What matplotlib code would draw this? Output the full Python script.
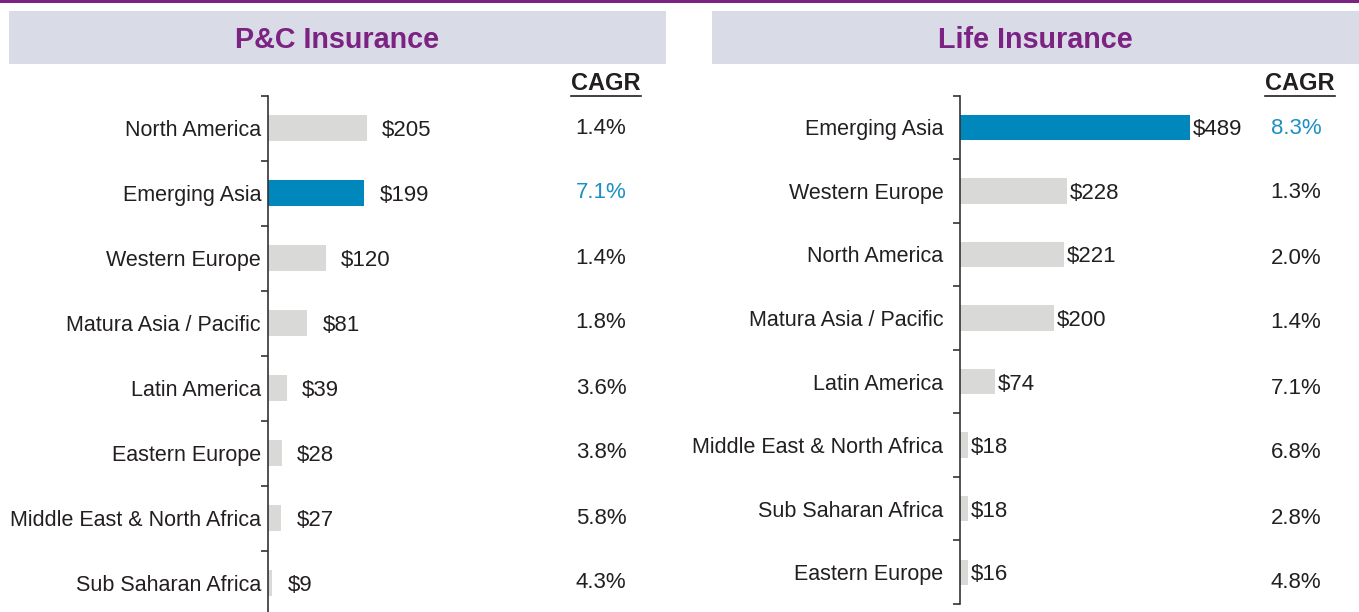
import matplotlib.pyplot as plt
from matplotlib.patches import Rectangle
from matplotlib.lines import Line2D

plt.rcParams['font.family'] = ['Liberation Sans', 'DejaVu Sans']

# P&C data
pc_regions = ["North America", "Emerging Asia", "Western Europe", "Matura Asia / Pacific",
              "Latin America", "Eastern Europe", "Middle East & North Africa", "Sub Saharan Africa"]
pc_values = [205, 199, 120, 81, 39, 28, 27, 9]
pc_cagr = ["1.4%", "7.1%", "1.4%", "1.8%", "3.6%", "3.8%", "5.8%", "4.3%"]

# Life data
life_regions = ["Emerging Asia", "Western Europe", "North America", "Matura Asia / Pacific",
                "Latin America", "Middle East & North Africa", "Sub Saharan Africa", "Eastern Europe"]
life_values = [489, 228, 221, 200, 74, 18, 18, 16]
life_cagr = ["8.3%", "1.3%", "2.0%", "1.4%", "7.1%", "6.8%", "2.8%", "4.8%"]

highlight = "Emerging Asia"

GREY = "#d9d9d8"
BLUE = "#0087bb"
BLUE_TXT = "#1a90c4"
PURPLE = "#7b2283"
HEAD_BG = "#d9dce6"
TXT = "#231f20"

W, H = 1359, 612
fig = plt.figure(figsize=(W / 100, H / 100), dpi=100)


def fx(px):
    return px / W


def fy(py):
    return 1 - py / H


# purple rule and header boxes
fig.add_artist(Rectangle((0, fy(3)), 1, 3 / H, transform=fig.transFigure,
                         color=PURPLE, lw=0))
for x0, x1, title in [(9, 666, "P&C Insurance"), (712, 1359, "Life Insurance")]:
    fig.add_artist(Rectangle((fx(x0), fy(64)), fx(x1 - x0), 53 / H,
                             transform=fig.transFigure, color=HEAD_BG, lw=0))
    fig.text(fx((x0 + x1) / 2), fy(40), title, ha='center', va='center',
             fontsize=20.7, fontweight='bold', color=PURPLE)


def panel(rect, regions, values, xmax, label_pad, val_gap):
    ax = fig.add_axes(rect)
    n = len(regions)
    y = list(range(n))
    colors = [BLUE if r == highlight else GREY for r in regions]
    ax.barh(y, values, height=0.4, color=colors)
    ax.set_ylim(n - 0.5, -0.5)
    ax.set_xlim(0, xmax)
    ax.set_yticks(y)
    ax.set_yticklabels(regions, fontsize=15.5, color=TXT)
    ax.tick_params(axis='y', which='major', length=0, pad=label_pad)
    ax.set_yticks([i - 0.5 for i in range(n + 1)], minor=True)
    ax.tick_params(axis='y', which='minor', length=5, width=1.2, color="#333333",
                   direction='out')
    ax.set_xticks([])
    for s in ['top', 'right', 'bottom']:
        ax.spines[s].set_visible(False)
    ax.spines['left'].set_color("#333333")
    ax.spines['left'].set_linewidth(1.2)
    for i, v in enumerate(values):
        ax.annotate(f"${v}", (v, i), xytext=(val_gap, 0), textcoords='offset points',
                    va='center_baseline', ha='left', fontsize=16, color=TXT)
    return ax


panel([fx(268), fy(615.5), fx(400), 520 / H], pc_regions, pc_values, 828, 5, 11)
panel([fx(960), fy(604), fx(399), 508.5 / H], life_regions, life_values, 847, 12, 2)


def cagr_col(xc, cagrs, regions):
    ax = fig.add_axes([fx(xc - 50), fy(615.5), fx(100), 520 / H])
    ax.set_ylim(len(cagrs) - 0.5, -0.5)
    ax.set_xlim(0, 1)
    ax.axis('off')
    for i, (c, r) in enumerate(zip(cagrs, regions)):
        ax.text(0.5, i, c, ha='center', va='center', fontsize=16,
                color=BLUE_TXT if r == highlight else TXT)


cagr_col(601, pc_cagr, pc_regions)
cagr_col(1296, life_cagr, life_regions)

for xc in [606, 1300]:
    fig.text(fx(xc), fy(83), "CAGR", ha='center', va='center', fontsize=17,
             fontweight='bold', color=TXT)
    fig.add_artist(Line2D([fx(xc - 35), fx(xc + 35)], [fy(95.5), fy(95.5)],
                          transform=fig.transFigure, color=TXT, lw=1.2))

fig.savefig("out.png", dpi=100)
